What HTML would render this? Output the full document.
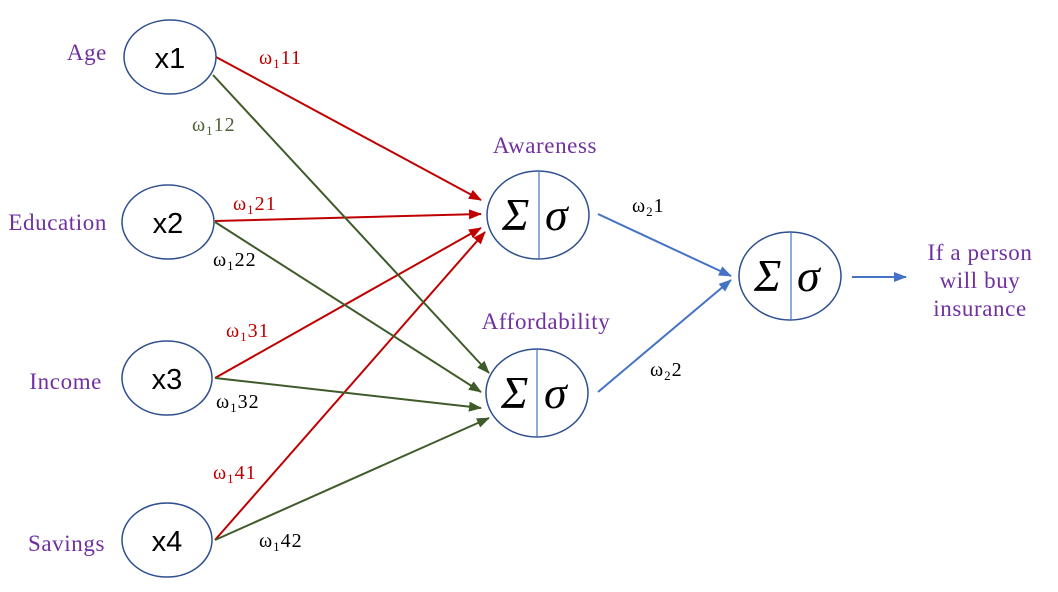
<!DOCTYPE html>
<html><head><meta charset="utf-8"><style>
html,body{margin:0;padding:0;background:#fff;width:1058px;height:592px;overflow:hidden}
svg text{font-family:"Liberation Serif",serif}
.p{fill:#7030a0;font-size:23px;letter-spacing:0.6px}
.x{font-family:"Liberation Sans",sans-serif !important;font-size:29px;fill:#000}
.w{font-size:20px;letter-spacing:1px}
.s{font-size:46px;font-style:italic;fill:#000}
</style></head><body>
<svg width="1058" height="592" viewBox="0 0 1058 592" xmlns="http://www.w3.org/2000/svg">
<defs>
<marker id="r" markerWidth="13" markerHeight="10" refX="12" refY="5" orient="auto" markerUnits="userSpaceOnUse"><path d="M0,0 L13,5 L0,10 Z" fill="#c00000"/></marker>
<marker id="g" markerWidth="13" markerHeight="10" refX="12" refY="5" orient="auto" markerUnits="userSpaceOnUse"><path d="M0,0 L13,5 L0,10 Z" fill="#3f5b2a"/></marker>
<marker id="b" markerWidth="13" markerHeight="10" refX="12" refY="5" orient="auto" markerUnits="userSpaceOnUse"><path d="M0,0 L13,5 L0,10 Z" fill="#4472c4"/></marker>
</defs>
<g stroke-width="2" fill="none">
<line x1="216" y1="57" x2="481" y2="200" stroke="#c00000" marker-end="url(#r)"/>
<line x1="215" y1="221" x2="481" y2="214" stroke="#c00000" marker-end="url(#r)"/>
<line x1="215" y1="378" x2="481" y2="228" stroke="#c00000" marker-end="url(#r)"/>
<line x1="215" y1="540" x2="485" y2="232" stroke="#c00000" marker-end="url(#r)"/>
<line x1="213" y1="75" x2="489" y2="373" stroke="#3f5b2a" marker-end="url(#g)"/>
<line x1="215" y1="222" x2="481" y2="392" stroke="#3f5b2a" marker-end="url(#g)"/>
<line x1="215" y1="378" x2="481" y2="408" stroke="#3f5b2a" marker-end="url(#g)"/>
<line x1="215" y1="540" x2="489" y2="418" stroke="#3f5b2a" marker-end="url(#g)"/>
<line x1="598" y1="214" x2="731" y2="276" stroke="#4472c4" marker-end="url(#b)"/>
<line x1="598" y1="392" x2="731" y2="280" stroke="#4472c4" marker-end="url(#b)"/>
<line x1="852" y1="277" x2="906" y2="277" stroke="#4472c4" marker-end="url(#b)"/>
</g>
<g fill="#fff" stroke="#2f4f8f" stroke-width="1.5">
<ellipse cx="170" cy="57" rx="46" ry="37"/>
<ellipse cx="168" cy="222" rx="46" ry="37"/>
<ellipse cx="167" cy="378" rx="45" ry="37"/>
<ellipse cx="167" cy="540" rx="45" ry="37"/>
<ellipse cx="538" cy="215" rx="51" ry="44"/>
<ellipse cx="537" cy="393" rx="51" ry="44"/>
<ellipse cx="790" cy="276" rx="51" ry="44"/>
</g>
<g stroke="#4472c4" stroke-width="1.2">
<line x1="539" y1="171" x2="539" y2="259"/>
<line x1="537" y1="349" x2="537" y2="437"/>
<line x1="791" y1="232" x2="791" y2="320"/>
</g>
<text class="x" x="170" y="68" text-anchor="middle">x1</text>
<text class="x" x="168" y="233" text-anchor="middle">x2</text>
<text class="x" x="167" y="389" text-anchor="middle">x3</text>
<text class="x" x="167" y="551" text-anchor="middle">x4</text>
<text class="s" x="502" y="230">Σ</text><text class="s" x="545" y="230">σ</text>
<text class="s" x="501" y="408">Σ</text><text class="s" x="544" y="408">σ</text>
<text class="s" x="754" y="291">Σ</text><text class="s" x="797" y="291">σ</text>
<text class="p" x="107" y="60" text-anchor="end">Age</text>
<text class="p" x="107" y="230" text-anchor="end">Education</text>
<text class="p" x="102" y="389" text-anchor="end">Income</text>
<text class="p" x="105" y="551" text-anchor="end">Savings</text>
<text class="p" x="545" y="153" text-anchor="middle">Awareness</text>
<text class="p" x="546" y="329" text-anchor="middle">Affordability</text>
<text class="p" x="980" y="260" text-anchor="middle">If a person</text>
<text class="p" x="980" y="288" text-anchor="middle">will buy</text>
<text class="p" x="980" y="316" text-anchor="middle">insurance</text>
<g class="w">
<text x="259" y="64" fill="#c00000" class="w">ω<tspan font-size="13" dy="4">1</tspan><tspan dy="-4">11</tspan></text>
<text x="192" y="131" fill="#4f6136" class="w">ω<tspan font-size="13" dy="4">1</tspan><tspan dy="-4">12</tspan></text>
<text x="233" y="210" fill="#c00000" class="w">ω<tspan font-size="13" dy="4">1</tspan><tspan dy="-4">21</tspan></text>
<text x="213" y="266" fill="#000" class="w">ω<tspan font-size="13" dy="4">1</tspan><tspan dy="-4">22</tspan></text>
<text x="226" y="337" fill="#c00000" class="w">ω<tspan font-size="13" dy="4">1</tspan><tspan dy="-4">31</tspan></text>
<text x="216" y="408" fill="#000" class="w">ω<tspan font-size="13" dy="4">1</tspan><tspan dy="-4">32</tspan></text>
<text x="213" y="479" fill="#c00000" class="w">ω<tspan font-size="13" dy="4">1</tspan><tspan dy="-4">41</tspan></text>
<text x="259" y="547" fill="#000" class="w">ω<tspan font-size="13" dy="4">1</tspan><tspan dy="-4">42</tspan></text>
<text x="632" y="212" fill="#000" class="w">ω<tspan font-size="13" dy="4">2</tspan><tspan dy="-4">1</tspan></text>
<text x="650" y="376" fill="#000" class="w">ω<tspan font-size="13" dy="4">2</tspan><tspan dy="-4">2</tspan></text>
</g>
</svg>
</body></html>
